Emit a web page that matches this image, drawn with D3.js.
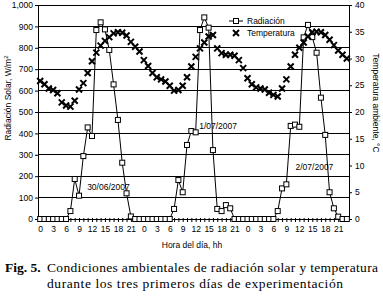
<html>
<head>
<style>
  body { margin: 0; background: #fff; }
  svg text { font-family: "Liberation Sans", Arial, sans-serif; }
  .caption { font-family: "Liberation Serif", "Times New Roman", serif; }
</style>
<script src="https://d3js.org/d3.v7.min.js"></script>
</head>
<body>
<svg id="chart" width="383" height="297"></svg>
<script>
  // hourly values, one array per day (hour 0..23)
  let rad30jun = [0, 0, 0, 0, 0, 0, 0, 37, 187, 109, 294, 428, 388, 883, 919, 886, 790, 629, 463, 263, 120, 12, 0, 0]
  let rad1jul  = [0, 0, 0, 0, 0, 0, 0, 47, 182, 125, 346, 411, 405, 883, 942, 894, 322, 47, 37, 65, 50, 0, 0, 0]
  let rad2jul  = [0, 0, 0, 0, 0, 0, 0, 37, 143, 162, 435, 441, 431, 849, 907, 850, 777, 567, 393, 125, 50, 11, 0, 0]

  let temp30jun = [25.8, 25.2, 24.4, 24.1, 23.5, 21.8, 21.2, 21.0, 22.1, 24.2, 25.4, 27.3, 29.5, 31.1, 32.4, 33.3, 34.0, 34.7, 34.9, 34.8, 34.3, 33.1, 32.2, 31.3]
  let temp1jul  = [29.7, 28.6, 27.3, 26.5, 26.1, 25.7, 24.9, 24.0, 24.1, 24.9, 26.5, 28.5, 30.3, 31.9, 33.0, 34.1, 34.4, 31.9, 31.0, 30.7, 30.7, 30.5, 29.7, 28.2]
  let temp2jul  = [26.3, 25.2, 24.6, 24.4, 24.2, 23.6, 23.2, 22.9, 24.4, 26.1, 28.5, 30.7, 32.0, 33.0, 34.1, 34.9, 35.0, 34.9, 34.4, 33.5, 32.5, 31.5, 30.7, 30.0]

  let hourTicks = ["0", "3", "6", "9", "12", "15", "18", "21"]
  let radTicks = [0, 100, 200, 300, 400, 500, 600, 700, 800, 900, 1000]
  let tempTicks = [0, 5, 10, 15, 20, 25, 30, 35, 40]
  let dayLabels = [
    { text: "30/06/2007", hour: 15.8, rad: 135 },
    { text: "1/07/2007", hour: 41.2, rad: 420 },
    { text: "2/07/2007", hour: 63.5, rad: 230 }
  ]

  let radiation = rad30jun.concat(rad1jul, rad2jul)
  let temperature = temp30jun.concat(temp1jul, temp2jul)

  let svg = d3.select("#chart")
  let margin = { left: 38, right: 349, top: 5, bottom: 219 }

  let x = d3.scaleLinear().domain([-0.5, radiation.length - 0.5]).range([margin.left, margin.right])
  let yRad = d3.scaleLinear().domain([0, 1000]).range([margin.bottom, margin.top])
  let yTemp = d3.scaleLinear().domain([0, 40]).range([margin.bottom, margin.top])

  // grid lines
  svg.append("g")
    .selectAll("line")
    .data(radTicks.slice(1))
    .enter().append("line")
    .attr("x1", margin.left).attr("x2", margin.right)
    .attr("y1", d => yRad(d)).attr("y2", d => yRad(d))
    .attr("stroke", "#000").attr("stroke-width", 1)
    .attr("shape-rendering", "crispEdges")

  // left axis
  let axisL = d3.axisLeft(yRad).tickValues(radTicks).tickSize(3).tickPadding(2)
  let gL = svg.append("g").attr("transform", `translate(${margin.left},0)`).call(axisL)
  gL.select(".domain").attr("shape-rendering", "crispEdges")
  gL.selectAll("text").style("font-size", "8.5px").attr("font-family", null)

  // right axis
  let axisR = d3.axisRight(yTemp).tickValues(tempTicks).tickSize(3).tickPadding(3)
  let gR = svg.append("g").attr("transform", `translate(${margin.right},0)`).call(axisR)
  gR.select(".domain").attr("shape-rendering", "crispEdges")
  gR.selectAll("text").style("font-size", "8.5px").attr("font-family", null)

  // bottom axis with a tick each hour, label every 3 h
  let hourIdx = d3.range(radiation.length)
  let axisB = d3.axisBottom(x)
    .tickValues(hourIdx)
    .tickSize(3)
    .tickPadding(4)
    .tickFormat(d => d % 3 == 0 ? hourTicks[(d % 24) / 3] : "")
  let gB = svg.append("g").attr("transform", `translate(0,${margin.bottom})`).call(axisB)
  gB.select(".domain").attr("d", `M${margin.left},0H${margin.right}`).attr("shape-rendering", "crispEdges")
  gB.selectAll(".tick line").attr("y1", -1)
  gB.selectAll("text").style("font-size", "8.5px").attr("font-family", null)

  // radiation line
  let line = d3.line().x((d, i) => x(i)).y(d => yRad(d))
  svg.append("path")
    .datum(radiation)
    .attr("d", line)
    .attr("fill", "none")
    .attr("stroke", "#000")
    .attr("stroke-width", 1)

  svg.append("g")
    .selectAll("rect")
    .data(radiation)
    .enter().append("rect")
    .attr("x", (d, i) => x(i) - 2.5)
    .attr("y", d => yRad(d) - 2.5)
    .attr("width", 5).attr("height", 5)
    .attr("fill", "#fff").attr("stroke", "#000").attr("stroke-width", 1)

  // temperature markers
  let xMark = "M-3,-3L3,3M-3,3L3,-3"
  svg.append("g")
    .selectAll("path")
    .data(temperature)
    .enter().append("path")
    .attr("transform", (d, i) => `translate(${x(i)},${yTemp(d)})`)
    .attr("d", xMark)
    .attr("stroke", "#000").attr("stroke-width", 2)

  // top border
  svg.append("line")
    .attr("x1", margin.left).attr("x2", margin.right)
    .attr("y1", margin.top).attr("y2", margin.top)
    .attr("stroke", "#000").attr("shape-rendering", "crispEdges")

  // day labels
  svg.append("g")
    .selectAll("text")
    .data(dayLabels)
    .enter().append("text")
    .attr("x", d => x(d.hour))
    .attr("y", d => yRad(d.rad))
    .attr("text-anchor", "middle")
    .style("font-size", "8.5px")
    .text(d => d.text)

  // legend
  let legend = svg.append("g").attr("transform", "translate(229,21)")
  legend.append("line").attr("x1", 0).attr("x2", 14).attr("y1", 0).attr("y2", 0).attr("stroke", "#000")
  legend.append("rect").attr("x", 4.5).attr("y", -2.5).attr("width", 5).attr("height", 5)
    .attr("fill", "#fff").attr("stroke", "#000")
  legend.append("text").attr("x", 18).attr("y", 3).style("font-size", "8.5px").text("Radiación")
  legend.append("path").attr("transform", "translate(7,12)").attr("d", xMark)
    .attr("stroke", "#000").attr("stroke-width", 2)
  legend.append("text").attr("x", 18).attr("y", 15).style("font-size", "8.5px").text("Temperatura")

  // axis titles
  let leftTitle = svg.append("text")
    .attr("transform", "translate(11,98) rotate(-90)")
    .attr("text-anchor", "middle")
    .style("font-size", "8.5px")
  leftTitle.append("tspan").text("Radiación Solar, W/m")
  leftTitle.append("tspan").attr("dy", -3).style("font-size", "6px").text("2")

  svg.append("text")
    .attr("transform", "translate(373,103) rotate(90)")
    .attr("text-anchor", "middle")
    .style("font-size", "8.5px")
    .text("Temperatura ambiente, °C")

  svg.append("text")
    .attr("x", 192).attr("y", 248)
    .attr("text-anchor", "middle")
    .style("font-size", "8.5px")
    .text("Hora del día, hh")

  // caption
  svg.append("text").attr("class", "caption").attr("x", 5).attr("y", 272).style("font-size", "13.5px")
    .attr("font-weight", "bold").text("Fig. 5.")
  svg.append("text").attr("class", "caption").attr("x", 47).attr("y", 272).style("font-size", "13.5px")
    .attr("textLength", 331).attr("lengthAdjust", "spacing")
    .text("Condiciones ambientales de radiación solar y temperatura")
  svg.append("text").attr("class", "caption").attr("x", 47).attr("y", 288).style("font-size", "13.5px")
    .attr("textLength", 296).attr("lengthAdjust", "spacing")
    .text("durante los tres primeros días de experimentación")
</script>
</body>
</html>
